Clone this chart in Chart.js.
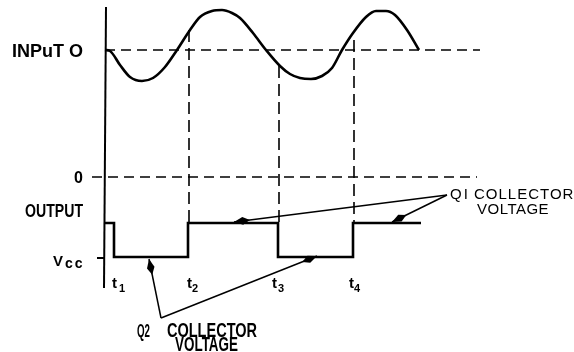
<!DOCTYPE html>
<html>
<head>
<meta charset="utf-8">
<script src="https://cdn.jsdelivr.net/npm/chart.js@4/dist/chart.umd.min.js"></script>
<style>
  html, body { margin: 0; padding: 0; background: #fff; }
  canvas { display: block; }
</style>
</head>
<body>
<canvas id="grafica1" width="574" height="352"></canvas>
<script>
// x = tiempo (0 en el eje vertical), y = voltaje (0 en la linea "0")
const entradaT = [0, 5, 15, 25, 37, 48, 60, 72, 85, 95, 107, 117, 127, 135, 148, 161, 175, 185, 195, 206, 217, 227, 237, 248, 261, 271, 281, 290, 302, 314];
const entradaV = [127, 126, 112, 100, 96, 99, 110, 127, 147, 160, 166, 167, 164, 159, 144, 127, 111, 103, 99, 98, 101, 109, 127, 144, 160, 166, 166, 162, 147, 127];

const salidaT = [0, 9, 9, 83, 83, 173, 173, 248, 248, 316];
const salidaV = [-46, -46, -80, -80, -46, -46, -80, -80, -46, -46];

const ceroEntrada = 127;
const vcc = -81;

// lineas guia verticales en t2, t3, t4
const guiaT = [84, 174, 249];
const guiaDesde = [147, 111, 137];

// flechas de los rotulos Q1 / Q2
const flechaOrigen = [[342, -18], [342, -18], [56, -141], [56, -141]];
const flechaPunta = [[129, -45], [287, -45], [44, -82], [212, -79]];

// rotulos de tiempo
const tiempoTexto = ['t', 't', 't', 't'];
const tiempoSub = ['1', '2', '3', '4'];
const tiempoPos = [7, 82, 167, 244];
const subPos = [14, 87, 173, 249];

const negro = '#000';
const fuente = '"Liberation Sans", Arial, sans-serif';

const rotulos = [
    { texto: 'INPuT O', t: -93, v: 120, font: 'bold 18px ' + fuente },
    { texto: '0', t: -26.5, v: -6, font: 'bold 16px ' + fuente, align: 'center' },
    { texto: 'OUTPUT', t: -80, v: -40, font: 'bold 19px ' + fuente, max: 58 },
    { texto: 'V', t: -52, v: -89, font: 'bold 15px ' + fuente },
    { texto: 'cc', t: -40, v: -91, font: 'bold 14px ' + fuente, spacing: '2px' },
    { texto: 'QI', t: 345, v: -22, font: '15px ' + fuente, spacing: '2px' },
    { texto: 'COLLECTOR', t: 369, v: -22, font: '15px ' + fuente, spacing: '1px' },
    { texto: 'VOLTAGE', t: 372, v: -37, font: '15px ' + fuente, spacing: '0.5px' },
    { texto: 'Q2', t: 32, v: -160, font: 'bold 18px ' + fuente, max: 13 },
    { texto: 'COLLECTOR', t: 62, v: -160, font: 'bold 20px ' + fuente, max: 90 },
    { texto: 'VOLTAGE', t: 70, v: -174, font: 'bold 20px ' + fuente, max: 63 }
];
tiempoTexto.forEach((txt, i) => {
    rotulos.push({ texto: txt, t: tiempoPos[i], v: -111, font: 'bold 15px ' + fuente });
    rotulos.push({ texto: tiempoSub[i], t: subPos[i], v: -115, font: 'bold 11px ' + fuente });
});

function puntos(xs, ys) {
    return xs.map((x, i) => ({ x: x, y: ys[i] }));
}

function linea(data, ancho, dash) {
    return {
        data: data,
        showLine: true,
        borderColor: negro,
        borderWidth: ancho,
        borderDash: dash || [],
        borderJoinStyle: 'miter',
        pointRadius: 0,
        tension: 0,
        fill: false
    };
}

const datasets = [];

// eje vertical y marca de Vcc
datasets.push(linea([{ x: 1, y: 170 }, { x: -1, y: -111 }], 2));
datasets.push(linea([{ x: -8, y: vcc }, { x: 0, y: vcc }], 2));

// guias discontinuas
datasets.push(linea([{ x: 0, y: ceroEntrada }, { x: 375, y: ceroEntrada }], 1.6, [10, 6]));
datasets.push(linea([{ x: -13, y: 0 }, { x: 372, y: 0 }], 1.6, [10, 6]));
guiaT.forEach((t, i) => {
    datasets.push(linea([{ x: t, y: guiaDesde[i] }, { x: t, y: -46 }], 1.6, [12, 6]));
});

// senal de entrada
const entrada = linea(puntos(entradaT, entradaV), 2.6);
entrada.cubicInterpolationMode = 'monotone';
datasets.push(entrada);

// salida cuadrada
datasets.push(linea(puntos(salidaT, salidaV), 2.6));

// flechas
flechaOrigen.forEach((o, i) => {
    const p = flechaPunta[i];
    datasets.push(linea([{ x: o[0], y: o[1] }, { x: p[0], y: p[1] }], 1.5));
});

const dibujos = {
    id: 'dibujos',
    afterDatasetsDraw(chart) {
        const ctx = chart.ctx;
        const sx = chart.scales.x, sy = chart.scales.y;
        ctx.save();
        ctx.fillStyle = negro;

        // puntas de flecha
        flechaOrigen.forEach((o, i) => {
            const p = flechaPunta[i];
            const x0 = sx.getPixelForValue(o[0]), y0 = sy.getPixelForValue(o[1]);
            const x1 = sx.getPixelForValue(p[0]), y1 = sy.getPixelForValue(p[1]);
            const d = Math.hypot(x0 - x1, y0 - y1);
            const ux = (x0 - x1) / d, uy = (y0 - y1) / d;
            const L = 16, w = 3.8;
            ctx.beginPath();
            ctx.moveTo(x1, y1);
            ctx.lineTo(x1 + ux * L * 0.55 - uy * w, y1 + uy * L * 0.55 + ux * w);
            ctx.lineTo(x1 + ux * L, y1 + uy * L);
            ctx.lineTo(x1 + ux * L * 0.55 + uy * w, y1 + uy * L * 0.55 - ux * w);
            ctx.closePath();
            ctx.fill();
        });

        // textos
        ctx.textBaseline = 'alphabetic';
        rotulos.forEach(r => {
            ctx.font = r.font;
            ctx.textAlign = r.align || 'left';
            ctx.letterSpacing = r.spacing || '0px';
            const x = sx.getPixelForValue(r.t), y = sy.getPixelForValue(r.v);
            if (r.max) ctx.fillText(r.texto, x, y, r.max);
            else ctx.fillText(r.texto, x, y);
        });
        ctx.restore();
    }
};

const ctx = document.getElementById('grafica1').getContext('2d');
window.miGrafica = new Chart(ctx, {
    type: 'scatter',
    data: { datasets: datasets },
    options: {
        responsive: false,
        animation: false,
        layout: { padding: 0 },
        plugins: {
            legend: { display: false },
            tooltip: { enabled: false }
        },
        scales: {
            x: { type: 'linear', min: -105, max: 469, display: false },
            y: { type: 'linear', min: -175, max: 177, display: false }
        }
    },
    plugins: [dibujos]
});
</script>
</body>
</html>
